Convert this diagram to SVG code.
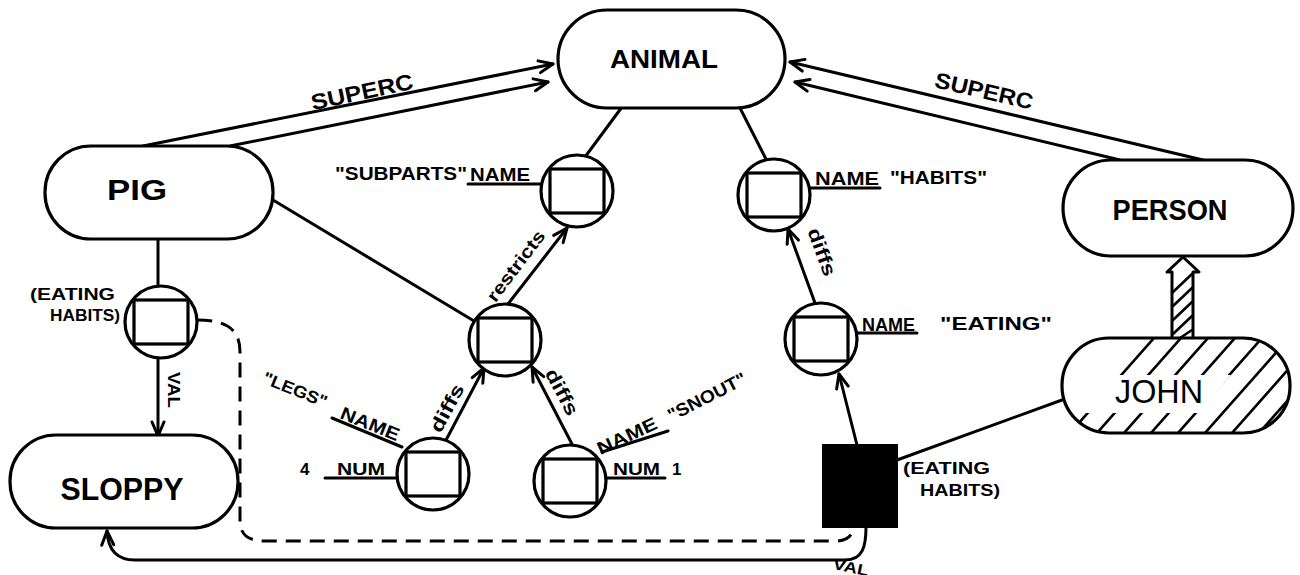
<svg xmlns="http://www.w3.org/2000/svg" width="1300" height="575" viewBox="0 0 1300 575">
<style>
.s{fill:none;stroke:#000;stroke-width:3;stroke-linecap:round;stroke-linejoin:round}
.d{fill:none;stroke:#000;stroke-width:3;stroke-dasharray:15 9}
.n{fill:#fff;stroke:#000;stroke-width:3.2}
.h{fill:none;stroke:#000;stroke-width:2.6;stroke-linecap:round}
.t{font-family:"Liberation Sans",Arial,sans-serif;font-weight:bold;fill:#000}
.c{dominant-baseline:central;text-anchor:middle}
</style>
<defs>
<marker id="ah" markerUnits="userSpaceOnUse" markerWidth="20" markerHeight="16" refX="15" refY="7" orient="auto" overflow="visible">
<path d="M1,1 L15,7 L1,13" fill="none" stroke="#000" stroke-width="3" stroke-linecap="round" stroke-linejoin="round"/>
</marker>
<g id="slot"><circle r="36" class="n"/><rect x="-27" y="-22" width="54" height="44" class="n"/></g>
<clipPath id="jc"><rect x="1063" y="339" width="226" height="93" rx="46"/></clipPath>
</defs>

<g id="connectors">
<path class="s" d="M143,146 L553,64" marker-end="url(#ah)"/>
<path class="s" d="M230,146 L548,82" marker-end="url(#ah)"/>
<path class="s" d="M1203,160 L790,62" marker-end="url(#ah)"/>
<path class="s" d="M1120,160 L795,82" marker-end="url(#ah)"/>
<path class="s" d="M622,107 L585,157"/>
<path class="s" d="M740,108 L767,161"/>
<path class="s" d="M273,200 L474,321"/>
<path class="s" d="M508,304 L567,228" marker-end="url(#ah)"/>
<path class="s" d="M445,442 L484,368" marker-end="url(#ah)"/>
<path class="s" d="M573,446 L532,367" marker-end="url(#ah)"/>
<path class="s" d="M815,303 L788,229" marker-end="url(#ah)"/>
<path class="s" d="M857,445 L839,374" marker-end="url(#ah)"/>
<path class="s" d="M897,460 L1062,400"/>
<path class="s" d="M158,239 L158,287"/>
<path class="s" d="M158,358 L158,436" marker-end="url(#ah)"/>
<path class="d" d="M197,320 C230,320 240,332 240,352 L240,520 C240,535 248,541 265,541 L835,541 C848,541 853,535 853,527"/>
<path class="s" d="M866,527 C866,546 863,560 845,560 L135,560 C118,560 108,551 107,531" marker-end="url(#ah)"/>
<path class="s" d="M1172,338 V272 L1167,272 L1183,257 L1199,272 L1193,272 V338"/>
<path class="h" d="M1173,292 L1192,274 M1173,306 L1192,288 M1173,320 L1192,302 M1173,334 L1192,316 M1180,338 L1192,330"/>
<path class="s" d="M468,184 L541,184"/>
<path class="s" d="M810,188 L880,188"/>
<path class="s" d="M857,333 L917,333"/>
<path class="s" d="M332,418 L402,447"/>
<path class="s" d="M325,478 L398,478"/>
<path class="s" d="M602,452 L668,431"/>
<path class="s" d="M606,478 L665,478"/>
<text class="t c" font-size="22" transform="translate(362,92) rotate(-12)" textLength="104" lengthAdjust="spacingAndGlyphs">SUPERC</text>
<text class="t c" font-size="22" transform="translate(984,91) rotate(13)" textLength="100" lengthAdjust="spacingAndGlyphs">SUPERC</text>
<text class="t c" font-size="18" transform="translate(516,266) rotate(-53)" textLength="84" lengthAdjust="spacingAndGlyphs">restricts</text>
<text class="t c" font-size="19" transform="translate(447,408) rotate(-62)" textLength="52" lengthAdjust="spacingAndGlyphs">diffs</text>
<text class="t c" font-size="19" transform="translate(562,392) rotate(62)" textLength="50" lengthAdjust="spacingAndGlyphs">diffs</text>
<text class="t c" font-size="19" transform="translate(822,252) rotate(70)" textLength="50" lengthAdjust="spacingAndGlyphs">diffs</text>
<text class="t c" font-size="17" transform="translate(173,390) rotate(90)" textLength="36" lengthAdjust="spacingAndGlyphs">VAL</text>
<text class="t c" font-size="15" transform="translate(851,567) rotate(12)" textLength="36" lengthAdjust="spacingAndGlyphs">VAL</text>
</g>

<g id="animal">
<rect x="558" y="10" width="227" height="98" rx="49" class="n"/>
<text class="t" x="664" y="68" font-size="25" text-anchor="middle" textLength="108" lengthAdjust="spacingAndGlyphs">ANIMAL</text>
</g>
<g id="pig">
<rect x="45" y="146" width="228" height="93" rx="46" class="n"/>
<text class="t" x="137" y="200" font-size="29" text-anchor="middle" textLength="60" lengthAdjust="spacingAndGlyphs">PIG</text>
</g>
<g id="person">
<rect x="1063" y="160" width="230" height="96" rx="48" class="n"/>
<text class="t" x="1170" y="220" font-size="30" text-anchor="middle" textLength="115" lengthAdjust="spacingAndGlyphs">PERSON</text>
</g>
<g id="john">
<rect x="1062" y="338" width="228" height="95" rx="47" fill="#fff"/>
<g clip-path="url(#jc)" class="h">
<path d="M1070,433 L1154,338 M1097,433 L1181,338 M1124,433 L1208,338 M1151,433 L1235,338 M1178,433 L1262,338 M1205,433 L1289,338 M1232,433 L1316,338 M1259,433 L1343,338 M1286,433 L1370,338"/>
</g>
<polygon points="1064,413 1199,413 1231,375 1064,375" fill="#fff"/>
<rect x="1062" y="338" width="228" height="95" rx="47" fill="none" stroke="#000" stroke-width="3.2"/>
<text class="t" x="1159" y="403" font-size="34" text-anchor="middle" textLength="88" lengthAdjust="spacingAndGlyphs" style="font-weight:normal">JOHN</text>
</g>
<g id="sloppy">
<rect x="10" y="435" width="228" height="93" rx="46" class="n"/>
<text class="t" x="122" y="500" font-size="31" text-anchor="middle" textLength="123" lengthAdjust="spacingAndGlyphs">SLOPPY</text>
</g>

<g id="slot-subparts">
<use href="#slot" x="577" y="191"/>
<text class="t" x="335" y="180" font-size="18" textLength="132" lengthAdjust="spacingAndGlyphs">"SUBPARTS"</text>
<text class="t" x="470" y="181" font-size="18" textLength="60" lengthAdjust="spacingAndGlyphs">NAME</text>
</g>
<g id="slot-habits">
<use href="#slot" x="774" y="195"/>
<text class="t" x="815" y="185" font-size="18" textLength="64" lengthAdjust="spacingAndGlyphs">NAME</text>
<text class="t" x="890" y="184" font-size="18" textLength="97" lengthAdjust="spacingAndGlyphs">"HABITS"</text>
</g>
<g id="slot-middle">
<use href="#slot" x="505" y="340"/>
</g>
<g id="slot-eating">
<use href="#slot" x="821" y="339"/>
<text class="t" x="862" y="331" font-size="18" textLength="53" lengthAdjust="spacingAndGlyphs">NAME</text>
<text class="t" x="940" y="330" font-size="18" textLength="112" lengthAdjust="spacingAndGlyphs">"EATING"</text>
</g>
<g id="slot-legs">
<use href="#slot" x="433" y="474"/>
<text class="t c" font-size="18" transform="translate(370,424) rotate(22)" textLength="62" lengthAdjust="spacingAndGlyphs">NAME</text>
<text class="t c" font-size="17" transform="translate(295,390) rotate(22)" textLength="68" lengthAdjust="spacingAndGlyphs">"LEGS"</text>
<text class="t" x="300" y="475" font-size="17">4</text>
<text class="t" x="337" y="475" font-size="17" textLength="48" lengthAdjust="spacingAndGlyphs">NUM</text>
</g>
<g id="slot-snout">
<use href="#slot" x="570" y="481"/>
<text class="t c" font-size="18" transform="translate(627,436) rotate(-25)" textLength="64" lengthAdjust="spacingAndGlyphs">NAME</text>
<text class="t c" font-size="18" transform="translate(707,397) rotate(-27)" textLength="86" lengthAdjust="spacingAndGlyphs">"SNOUT"</text>
<text class="t" x="613" y="475" font-size="17" textLength="47" lengthAdjust="spacingAndGlyphs">NUM</text>
<text class="t" x="672" y="475" font-size="17">1</text>
</g>
<g id="slot-pig-eating">
<use href="#slot" x="161" y="322"/>
<text class="t" x="30" y="300" font-size="16" textLength="85" lengthAdjust="spacingAndGlyphs">(EATING</text>
<text class="t" x="50" y="321" font-size="16" textLength="70" lengthAdjust="spacingAndGlyphs">HABITS)</text>
</g>
<g id="john-eating">
<rect x="823" y="445" width="74" height="82" fill="#000" stroke="#000" stroke-width="2"/>
<text class="t" x="903" y="474" font-size="17" textLength="87" lengthAdjust="spacingAndGlyphs">(EATING</text>
<text class="t" x="920" y="496" font-size="17" textLength="80" lengthAdjust="spacingAndGlyphs">HABITS)</text>
</g>
</svg>
